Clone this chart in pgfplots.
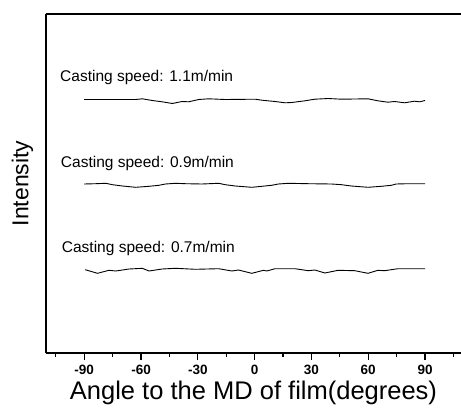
\documentclass[border=0pt]{standalone}
\usepackage{pgfplots}
\pgfplotsset{compat=1.18}
\usepackage{fontspec}
\setmainfont{Liberation Sans}
\begin{document}
\begin{tikzpicture}
\useasboundingbox (-46pt,-55pt) rectangle (415pt,353pt);
\begin{axis}[
  scale only axis,
  width=415pt, height=339pt,
  xmin=-110.2, xmax=109.0,
  ymin=0, ymax=339,
  axis x line*=box,
  axis y line*=left,
  axis line style={line width=1.2pt},
  xtick pos=bottom,
  xtick={-90,-60,-30,0,30,60,90},
  xticklabels={-90,-60,-30,0,30,60,90},
  minor xtick={-105,-75,-45,-15,15,45,75,105},
  ytick=\empty,
  tick align=outside,
  major tick length=7pt,
  minor tick length=3.5pt,
  every tick/.style={black, line width=1.1pt},
  xticklabel style={font=\fontsize{13.5}{15}\selectfont\bfseries, yshift=-2pt},
  xlabel={Angle to the MD of film(degrees)},
  xlabel style={font=\fontsize{25.5}{28}\selectfont, at={(axis description cs:0.5,0)}, anchor=base, yshift=-46.3pt},
  ylabel={Intensity},
  ylabel style={font=\fontsize{23}{26}\selectfont, at={(axis description cs:0,0.5)}, anchor=base, yshift=17.7pt},
  clip=false,
]
\addplot[black, line width=0.9pt] coordinates {
(-90,253.5) (-62.8,253.5) (-59.3,254.2) (-54.1,252.5) (-48.8,251.2) (-43.5,249.5) (-38.3,251.5) (-34.8,251.2) (-29.5,253.5) (-24.3,254.2) (-15.5,253.5) (0.3,253.8) (3.8,252.8) (10.8,251.5) (16.1,250.2) (19.6,250.5) (26.6,252.2) (31.8,253.8) (38.8,254.5) (45.9,253.8) (59.9,254.2) (65.1,252.2) (70.4,250.8) (73.9,251.5) (79.2,250.2) (84.4,251.8) (87.1,251.2) (90,252.5)
};
\addplot[black, line width=0.9pt] coordinates {
(-90,169) (-83.9,169.3) (-78.6,169.7) (-75.1,168.3) (-69.8,167) (-62.8,165.7) (-55.8,166.7) (-50.6,167.7) (-47.1,169) (-41.8,169.7) (-36.5,169.3) (-27.8,169) (-19.0,169.7) (-15.5,168.3) (-10.2,167) (-1.5,165.7) (3.8,166.7) (9.0,167.7) (12.6,169) (17.8,169.7) (28.3,169.3) (40.6,169) (45.9,168.3) (51.1,167) (59.9,165.7) (66.9,166.7) (72.2,167.7) (74.8,169) (80.9,169.3) (90,169.3)
};
\addplot[black, line width=0.9pt] coordinates {
(-89.5,83.3) (-83.0,79.7) (-76.9,82.7) (-73.3,82) (-66.3,84) (-59.3,84.7) (-55.8,82) (-48.8,84) (-41.8,84.7) (-31.3,83.7) (-19.0,84.3) (-12.0,82) (-8.5,83) (-1.5,79.7) (4.7,82.7) (6.4,82) (10.8,84.3) (21.3,84.3) (28.3,82.3) (31.8,83) (37.1,80) (44.1,82.7) (52.9,82.3) (59.9,79.7) (65.1,82.7) (68.6,82.3) (75.7,84.3) (90,84.3)
};
\node[anchor=base west, inner sep=0pt, font=\fontsize{15.5}{18}\selectfont] at (axis cs:-102.8,272) {Casting speed: 1.1m/min};
\node[anchor=base west, inner sep=0pt, font=\fontsize{15.5}{18}\selectfont] at (axis cs:-102.4,186) {Casting speed: 0.9m/min};
\node[anchor=base west, inner sep=0pt, font=\fontsize{15.5}{18}\selectfont] at (axis cs:-101.9,100.5) {Casting speed: 0.7m/min};
\end{axis}
\end{tikzpicture}
\end{document}
